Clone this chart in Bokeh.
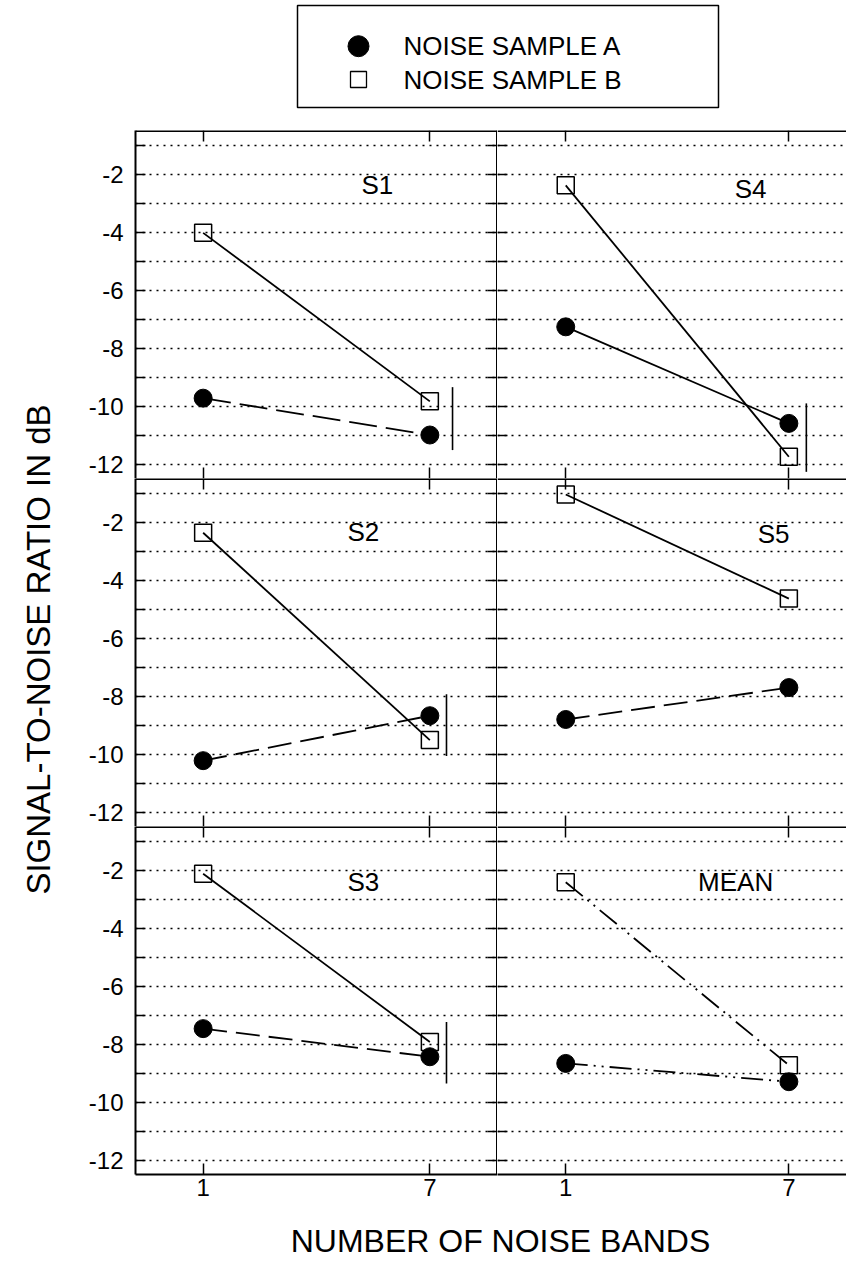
import math
from bokeh.plotting import figure
from bokeh.layouts import column, row
from bokeh.models import FixedTicker, LinearAxis, Range1d, Label
from bokeh.embed import file_html
from bokeh.resources import INLINE
from bokeh.core.properties import value

FONT = "Liberation Sans"

# ---------------- data ----------------
bands = [1, 7]                      # number of noise bands
y_major = [-12, -10, -8, -6, -4, -2]
y_minor = [-11, -9, -7, -5, -3, -1]

panel_names = ["S1", "S2", "S3", "S4", "S5", "MEAN"]

# noise sample A (filled circles), values at 1 and 7 bands
S1_A = [-9.73, -11.0]
S2_A = [-10.23, -8.68]
S3_A = [-7.47, -8.44]
S4_A = [-7.27, -10.6]
S5_A = [-8.81, -7.71]
MEAN_A = [-8.67, -9.3]

# noise sample B (open squares)
S1_B = [-4.03, -9.84]
S2_B = [-2.37, -9.52]
S3_B = [-2.13, -7.93]
S4_B = [-2.39, -11.75]
S5_B = [-1.05, -4.64]
MEAN_B = [-2.42, -8.73]

# vertical bars (x position, low/high)
err_x = [7.6, 7.44, 7.44, 7.47, None, None]
S1_ERR = [-9.35, -11.52]
S2_ERR = [-7.94, -10.07]
S3_ERR = [-7.24, -9.36]
S4_ERR = [-9.91, -12.27]

sample_a = [S1_A, S2_A, S3_A, S4_A, S5_A, MEAN_A]
sample_b = [S1_B, S2_B, S3_B, S4_B, S5_B, MEAN_B]
err_bars = [S1_ERR, S2_ERR, S3_ERR, S4_ERR, None, None]

# ---------------- styles / layout ----------------
DASH_A = ["28 9", "24 9", "24 9", "solid", "24 9", "22 6 2 6 2 6"]
DASH_B = ["solid", "solid", "solid", "solid", "solid", "22 6 2 6 2 6"]
LABEL_POS = [(5.61, -2.39), (5.24, -2.35), (5.24, -2.42),
             (5.97, -2.5), (6.59, -2.4), (5.57, -2.42)]

LEFT_X = (-0.79, 8.79)
RIGHT_X = (-0.835, 8.55)
PANEL_H = 348
LEFT_BORDER = 75
BOTTOM_BORDER = 36
EDGE_W = 3        # lines lying on a canvas edge (part is clipped)
INNER_W = 2


def style_axis(ax, tick_in, minor_in, line_w):
    ax.major_tick_in = tick_in
    ax.major_tick_out = 0
    ax.minor_tick_in = minor_in
    ax.minor_tick_out = 0
    ax.axis_line_width = line_w
    ax.axis_line_color = "black" if line_w else None
    ax.major_tick_line_color = "black"
    ax.minor_tick_line_color = "black"
    ax.major_tick_line_width = 1.5
    ax.minor_tick_line_width = 1.5


def make_panel(idx):
    ci, ri = idx // 3, idx % 3
    left = ci == 0
    bottom = ri == 2
    xr = LEFT_X if left else RIGHT_X
    p = figure(width=(LEFT_BORDER + 362) if left else 349,
               height=PANEL_H + (BOTTOM_BORDER if bottom else 0),
               x_range=Range1d(*xr), y_range=Range1d(-12.5, -0.5),
               output_backend="svg", toolbar_location=None,
               min_border=0,
               min_border_left=LEFT_BORDER if left else 0,
               min_border_bottom=BOTTOM_BORDER if bottom else 0,
               min_border_top=0, min_border_right=0,
               outline_line_color=None,
               background_fill_color="white", border_fill_color="white")

    yt = FixedTicker(ticks=y_major, minor_ticks=y_minor)
    xt = FixedTicker(ticks=bands, minor_ticks=[])

    # y axis (left)
    yax = p.yaxis[0]
    yax.ticker = yt
    if left:
        style_axis(yax, 10, 10, INNER_W)
        yax.major_label_overrides = {v: str(v) for v in y_major}
        yax.major_label_text_font = FONT
        yax.major_label_text_font_size = "24px"
        yax.major_label_text_color = "black"
        yax.major_label_standoff = 12
    else:
        style_axis(yax, 10, 10, 0)   # divider line drawn by the left panel
        yax.fixed_location = xr[0]
        yax.major_label_text_color = None

    # grid
    p.ygrid.ticker = yt
    p.ygrid.grid_line_color = "black"
    p.ygrid.grid_line_dash = "2 5"
    p.ygrid.grid_line_width = 1.3
    p.ygrid.minor_grid_line_color = "black"
    p.ygrid.minor_grid_line_dash = "2 5"
    p.ygrid.minor_grid_line_width = 1.3
    p.xgrid.visible = False

    # x axis (below)
    xax = p.xaxis[0]
    xax.ticker = xt
    if bottom:
        style_axis(xax, 11, 0, INNER_W)
        xax.major_label_text_font = FONT
        xax.major_label_text_font_size = "24px"
        xax.major_label_text_color = "black"
        xax.major_label_standoff = 4
    else:
        style_axis(xax, 11, 0, 0)    # divider line drawn by the panel below
        xax.fixed_location = -12.5
        xax.major_label_text_color = None

    # top axis
    top = LinearAxis(ticker=xt, fixed_location=-0.5, major_label_text_color=None)
    style_axis(top, 11, 0, EDGE_W)
    p.add_layout(top, "above")

    # right axis for left column (divider)
    if left:
        rax = LinearAxis(ticker=yt, fixed_location=xr[1], major_label_text_color=None)
        style_axis(rax, 10, 10, EDGE_W)
        p.add_layout(rax, "right")

    a = sample_a[idx]
    b = sample_b[idx]
    p.line(bands, b, line_color="black", line_width=1.8, line_dash=DASH_B[idx])
    p.line(bands, a, line_color="black", line_width=1.8, line_dash=DASH_A[idx])
    p.scatter(bands, a, marker="circle", size=18,
              fill_color="black", line_color="black")
    p.scatter(bands, b, marker="square", size=17,
              fill_color=None, line_color="black", line_width=1.5)

    eb = err_bars[idx]
    if eb is not None:
        p.segment(x0=[err_x[idx]], y0=[eb[0]], x1=[err_x[idx]], y1=[eb[1]],
                  line_color="black", line_width=1.6)

    lx, ly = LABEL_POS[idx]
    p.text(x=[lx], y=[ly], text=[panel_names[idx]],
           text_font=value(FONT), text_font_size="26px",
           text_color="black", text_align="center", text_baseline="middle")
    return p


panels = [make_panel(i) for i in range(6)]

# ---------------- legend ----------------
leg = figure(width=846, height=130, x_range=Range1d(0, 846), y_range=Range1d(0, 130),
             output_backend="svg", toolbar_location=None, min_border=0,
             x_axis_type=None, y_axis_type=None, outline_line_color=None)
leg.grid.visible = False
leg.quad(left=[297], right=[718], bottom=[23], top=[125],
         fill_color=None, line_color="black", line_width=1.5)
leg.scatter([358], [84.3], marker="circle", size=21, fill_color="black", line_color="black")
leg.scatter([358], [51], marker="square", size=16, fill_color=None,
            line_color="black", line_width=1.3)
leg.text(x=[403, 403], y=[84.3, 51], text=["NOISE SAMPLE A", "NOISE SAMPLE B"],
         text_font=value(FONT), text_font_size="26px", text_color="black",
         text_align="left", text_baseline="middle")

# ---------------- y title ----------------
grid_h = 3 * PANEL_H + BOTTOM_BORDER
ytf = figure(width=60, height=grid_h, x_range=Range1d(0, 60), y_range=Range1d(0, grid_h),
             output_backend="svg", toolbar_location=None, min_border=0,
             x_axis_type=None, y_axis_type=None, outline_line_color=None)
ytf.grid.visible = False
ytf.add_layout(Label(x=38, y=grid_h - 1.5 * PANEL_H + 3, text="SIGNAL-TO-NOISE RATIO IN dB",
                     angle=math.pi / 2, text_align="center", text_baseline="middle",
                     text_font=FONT, text_font_size="33px", text_color="black"))

# ---------------- x title ----------------
xtf = figure(width=846, height=51, x_range=Range1d(0, 846), y_range=Range1d(0, 51),
             output_backend="svg", toolbar_location=None, min_border=0,
             x_axis_type=None, y_axis_type=None, outline_line_color=None)
xtf.grid.visible = False
xtf.add_layout(Label(x=500, y=21, text="NUMBER OF NOISE BANDS",
                     text_align="center", text_baseline="middle",
                     text_font=FONT, text_font_size="32px", text_color="black"))

layout = column(leg,
                row(ytf, column(*panels[:3]), column(*panels[3:])),
                xtf)

open("out.html", "w").write(file_html(layout, INLINE))
